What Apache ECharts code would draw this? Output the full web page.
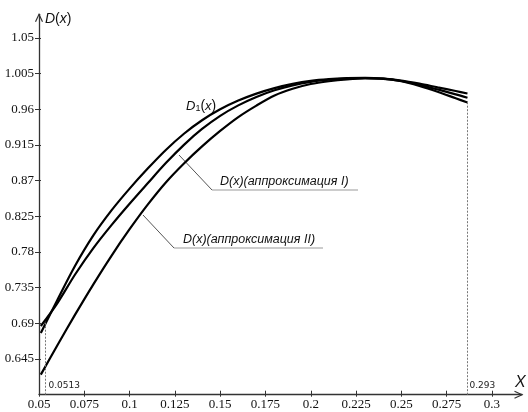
<!DOCTYPE html>
<html><head><meta charset="utf-8">
<script src="https://cdn.jsdelivr.net/npm/echarts@6/dist/echarts.min.js"></script>
<style>html,body{margin:0;padding:0;background:#fff}#c{width:528px;height:412px}</style>
</head><body><div id="c"></div>
<script>
// ---- data ----
const xValues  = [0.051,0.06,0.07,0.08,0.09,0.10,0.11,0.12,0.13,0.14,0.15,0.16,0.17,0.18,0.19,0.20,0.21,0.22,0.23,0.24,0.25,0.26,0.27,0.28,0.2865];
const d1       = [0.6780,0.7190,0.7630,0.8010,0.8325,0.8600,0.8853,0.9088,0.9293,0.9463,0.9601,0.9711,0.9799,0.9869,0.9922,0.9960,0.9982,0.9994,0.9999,0.9990,0.9965,0.9925,0.9878,0.9832,0.9801];
const approxI  = [0.6867,0.7150,0.7520,0.7850,0.8140,0.8410,0.8668,0.8923,0.9153,0.9353,0.9519,0.9651,0.9757,0.9841,0.9904,0.9948,0.9974,0.9989,0.9996,0.9988,0.9958,0.9910,0.9852,0.9790,0.9747];
const approxII = [0.6253,0.6618,0.7013,0.7393,0.7753,0.8088,0.8398,0.8678,0.8918,0.9133,0.9328,0.9503,0.9648,0.9775,0.9860,0.9920,0.9955,0.9978,0.9990,0.9986,0.9955,0.9895,0.9822,0.9740,0.9687];
const xTicks = [0.05,0.075,0.1,0.125,0.15,0.175,0.2,0.225,0.25,0.275,0.3];
const yTicks = [0.645,0.69,0.735,0.78,0.825,0.87,0.915,0.96,1.005,1.05];
const markerX = [0.0536, 0.2865];
const markerTopY = [0.692, 0.9687];
const markerLabels = ['0.0513', '0.293'];
const seriesNames = ['D1(x)', 'D(x)(аппроксимация I)', 'D(x)(аппроксимация II)'];

const pairs = arr => xValues.map((x, i) => [x, arr[i]]);
const chart = echarts.init(document.getElementById('c'), null, {renderer: 'canvas'});
const serif = 'Liberation Serif';
const sans = 'Liberation Sans';
const X_MIN = 0.05, X_MAX = 0.3166, Y_MIN = 0.6, Y_MAX = 1.08;

const baseX = {type: 'value', min: X_MIN, max: X_MAX, position: 'bottom', splitLine: {show: false}};
const baseY = {type: 'value', min: Y_MIN, max: Y_MAX, position: 'left', splitLine: {show: false}};

function lineSeries(name, arr) {
  return {name, type: 'line', data: pairs(arr), smooth: 0.3, showSymbol: false, symbol: 'none',
    lineStyle: {color: '#000', width: 2.2}, z: 3, animation: false};
}

chart.setOption({
  animation: false,
  backgroundColor: '#fff',
  grid: {left: 39, right: 6, top: 14.3, bottom: 17.3, containLabel: false},
  xAxis: [
    Object.assign({}, baseX, {
      axisLine: {show: true, lineStyle: {color: '#333', width: 1.3}},
      axisTick: {show: true, length: 2, customValues: xTicks, lineStyle: {color: '#333'}},
      axisLabel: {customValues: xTicks, fontFamily: serif, fontSize: 13, color: '#111', margin: 3, formatter: v => String(v)}
    }),
    Object.assign({}, baseX, {
      axisLine: {show: false}, axisLabel: {show: false},
      axisTick: {show: true, inside: true, length: 4, customValues: xTicks, lineStyle: {color: '#333'}}
    })
  ],
  yAxis: [
    Object.assign({}, baseY, {
      axisLine: {show: true, lineStyle: {color: '#333', width: 1.3}},
      axisTick: {show: true, length: 4, customValues: yTicks, lineStyle: {color: '#333'}},
      axisLabel: {customValues: yTicks, fontFamily: serif, fontSize: 13, color: '#111', margin: 5, formatter: v => String(v)}
    }),
    Object.assign({}, baseY, {
      axisLine: {show: false}, axisLabel: {show: false},
      axisTick: {show: true, inside: true, length: 2, customValues: yTicks, lineStyle: {color: '#333'}}
    })
  ],
  series: [
    lineSeries(seriesNames[0], d1),
    lineSeries(seriesNames[1], approxI),
    lineSeries(seriesNames[2], approxII),
    {
      type: 'line', data: [], silent: true,
      markLine: {
        silent: true, symbol: 'none', animation: false,
        lineStyle: {color: '#777', type: [2, 1.5], width: 1},
        label: {show: false},
        data: markerX.map((x, i) => [{coord: [x, Y_MIN]}, {coord: [x, markerTopY[i]]}])
      }
    }
  ]
});

function px(x, y) { return chart.convertToPixel({gridIndex: 0}, [x, y]); }
const m0 = px(markerX[0], Y_MIN), m1 = px(markerX[1], Y_MIN);
const yTop = px(X_MIN, Y_MAX), xEnd = px(X_MAX, Y_MIN);
const arrowStyle = {stroke: '#333', lineWidth: 1.2, fill: null};

chart.setOption({
  graphic: [
    {type: 'polyline', shape: {points: [[yTop[0] - 3.5, yTop[1] + 7.5], [yTop[0], yTop[1]], [yTop[0] + 3.5, yTop[1] + 7.5]]}, style: arrowStyle},
    {type: 'polyline', shape: {points: [[xEnd[0] - 7.5, xEnd[1] - 3.5], [xEnd[0], xEnd[1]], [xEnd[0] - 7.5, xEnd[1] + 3.5]]}, style: arrowStyle},
    {type: 'text', left: 45, top: 12, style: {text: '{d|D}{p|(}{x|x}{p|)}', rich: {
      d: {fontFamily: sans, fontStyle: 'italic', fontSize: 14, fill: '#111'},
      p: {fontFamily: sans, fontSize: 14, fill: '#111'},
      x: {fontFamily: sans, fontStyle: 'italic', fontSize: 14, fill: '#111'}}}},
    {type: 'text', left: 515, top: 375, style: {text: 'X', fontFamily: sans, fontStyle: 'italic', fontSize: 16, fill: '#111'}},
    {type: 'text', left: m0[0] + 3, top: m0[1] - 14, style: {text: markerLabels[0], fontFamily: 'DejaVu Sans', fontSize: 9, fill: '#222'}},
    {type: 'text', left: m1[0] + 2, top: m1[1] - 14, style: {text: markerLabels[1], fontFamily: 'DejaVu Sans', fontSize: 9, fill: '#222'}},
    {type: 'text', left: 186, top: 99, style: {text: '{d|D}{s|1}{p|(}{x|x}{p|)}', rich: {
      d: {fontFamily: sans, fontStyle: 'italic', fontSize: 13, fill: '#111'},
      s: {fontFamily: sans, fontSize: 9, fill: '#111', padding: [6, 0, 0, 0]},
      p: {fontFamily: sans, fontSize: 14, fill: '#111'},
      x: {fontFamily: sans, fontStyle: 'italic', fontSize: 13, fill: '#111'}}}},
    {type: 'polyline', shape: {points: [[179, 155], [212, 190]]}, style: {stroke: '#555', lineWidth: 1, fill: null}},
    {type: 'line', shape: {x1: 212, y1: 190, x2: 358, y2: 190}, style: {stroke: '#999', lineWidth: 1}},
    {type: 'text', left: 220, top: 175, style: {text: 'D(x)(аппроксимация I)', fontFamily: sans, fontStyle: 'italic', fontSize: 12.5, fill: '#111'}},
    {type: 'polyline', shape: {points: [[143, 215], [174, 248]]}, style: {stroke: '#555', lineWidth: 1, fill: null}},
    {type: 'line', shape: {x1: 174, y1: 248, x2: 323, y2: 248}, style: {stroke: '#999', lineWidth: 1}},
    {type: 'text', left: 183, top: 233, style: {text: 'D(x)(аппроксимация II)', fontFamily: sans, fontStyle: 'italic', fontSize: 12.5, fill: '#111'}}
  ]
});
</script>
</body></html>
